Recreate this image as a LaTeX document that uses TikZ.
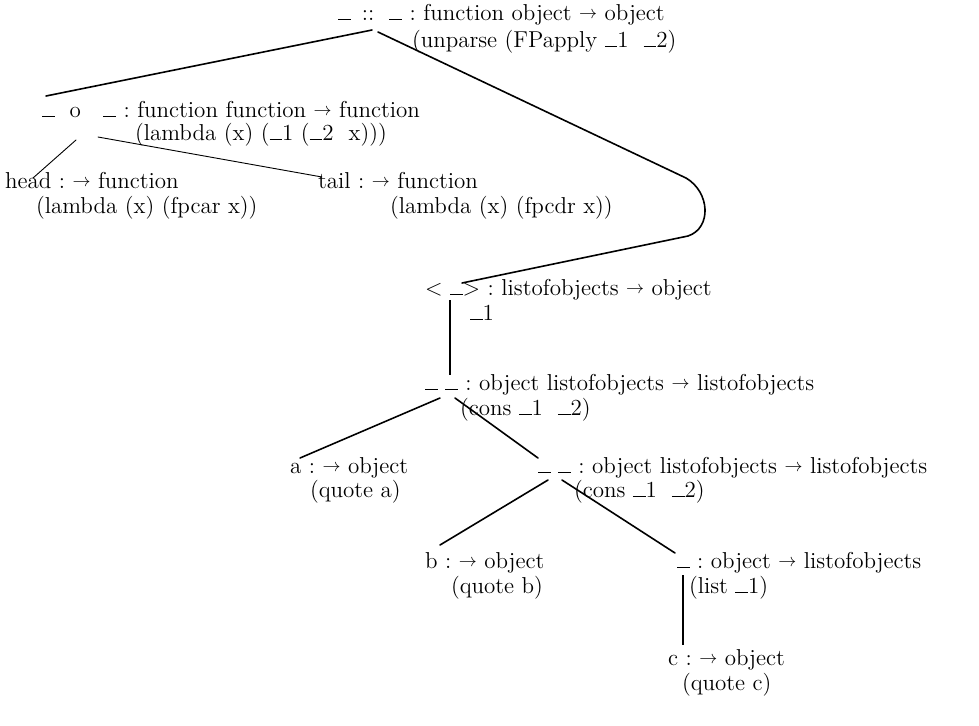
\documentclass[tikz,border=0pt]{standalone}
\usepackage{graphicx}
\newcommand\ph{\rule{0.55em}{0.7pt}}
\newcommand\ar{\raisebox{0.15ex}{\scalebox{0.75}{$\rightarrow$}}}
\tikzset{
  lbl/.style={anchor=base west, inner sep=0pt, outer sep=0pt, font=\fontsize{11.5}{13}\selectfont},
  sig/.style={lbl},
  edge/.style={line width=0.8pt, line cap=round},
  thin edge/.style={line width=0.45pt, line cap=round},
  vedge/.style={line width=0.6pt}
}
\begin{document}
\begin{tikzpicture}[x=0.5pt,y=-0.5pt]
\path[use as bounding box] (0,0) rectangle (979,725);
% top
\node[lbl] (top) at (338,20) {\ph\ \,::\ \ \ph};
\node[sig] (tops) at (top.base east) {\ :\ function object \ar\ object};
\node[lbl] (topc) at (412,47) {(unparse (FPapply \ph1\ \ \ph2)};
% compose
\node[lbl] (o) at (42,117) {\ph\ \ o\ \ \ \ph};
\node[sig] (os) at (o.base east) {\ :\ function function \ar\ function};
\node[lbl] (oc) at (135,140) {(lambda (x) (\ph1 (\ph2\ \ x)))};
% head / tail
\node[lbl] (head) at (5,188) {head};
\node[sig] (heads) at (head.base east) {\ :\ \ar\ function};
\node[lbl] (headc) at (36,213) {(lambda (x) (fpcar x))};
\node[lbl] (tail) at (318,188) {tail};
\node[sig] (tails) at (tail.base east) {\ :\ \ar\ function};
\node[lbl] (tailc) at (390,213) {(lambda (x) (fpcdr x))};
% list to object
\node[lbl] (lst) at (425,295) {\textless\ \ph\textgreater};
\node[sig] (lsts) at (lst.base east) {\ :\ listofobjects \ar\ object};
\node[lbl] (lstc) at (470,320) {\ph1};
% cons 1
\node[lbl] (consA) at (425,390) {\ph\,\,\ph};
\node[sig] (consAs) at (consA.base east) {\ :\ object listofobjects \ar\ listofobjects};
\node[lbl] (consAc) at (460,415) {(cons \ph1\ \ \ph2)};
% a
\node[lbl] (a) at (290,473) {a};
\node[sig] (as) at (a.base east) {\ :\ \ar\ object};
\node[lbl] (ac) at (310,497) {(quote a)};
% cons 2
\node[lbl] (consB) at (538,473) {\ph\,\,\ph};
\node[sig] (consBs) at (consB.base east) {\ :\ object listofobjects \ar\ listofobjects};
\node[lbl] (consBc) at (574,497) {(cons \ph1\ \ \ph2)};
% b
\node[lbl] (b) at (425,568) {b};
\node[sig] (bs) at (b.base east) {\ :\ \ar\ object};
\node[lbl] (bc) at (451,593) {(quote b)};
% list
\node[lbl] (lis) at (677,568) {\ph};
\node[sig] (liss) at (lis.base east) {\ :\ object \ar\ listofobjects};
\node[lbl] (lisc) at (689,593) {(list \ph1)};
% c
\node[lbl] (c) at (668,665) {c};
\node[sig] (cs) at (c.base east) {\ :\ \ar\ object};
\node[lbl] (cc) at (682,690) {(quote c)};
% connectors
\draw[edge] ([shift={(34,10)}]top.base west) -- ([shift={(4,-21)}]o.base west);
\draw[edge] ([shift={(40,12)}]top.base west) -- (686,178)
   .. controls (710,192) and (712,228) .. (688,236)
   -- ([shift={(37,-12)}]lst.base west);
\draw[thin edge] ([shift={(34,23)}]o.base west) -- ([shift={(28,-10)}]head.base west);
\draw[thin edge] ([shift={(56,20)}]o.base west) -- ([shift={(4,-11)}]tail.base west);
\draw[vedge] ([shift={(25,5)}]lst.base west) -- ([shift={(25,-15)}]consA.base west);
\draw[edge] ([shift={(15,8)}]consA.base west) -- ([shift={(10,-15)}]a.base west);
\draw[edge] ([shift={(30,8)}]consA.base west) -- ([shift={(0,-15)}]consB.base west);
\draw[edge] ([shift={(10,7)}]consB.base west) -- ([shift={(15,-23)}]b.base west);
\draw[edge] ([shift={(24,7)}]consB.base west) -- ([shift={(-2,-15)}]lis.base west);
\draw[vedge] ([shift={(6,7)}]lis.base west) -- ([shift={(15,-20)}]c.base west);
\end{tikzpicture}
\end{document}
